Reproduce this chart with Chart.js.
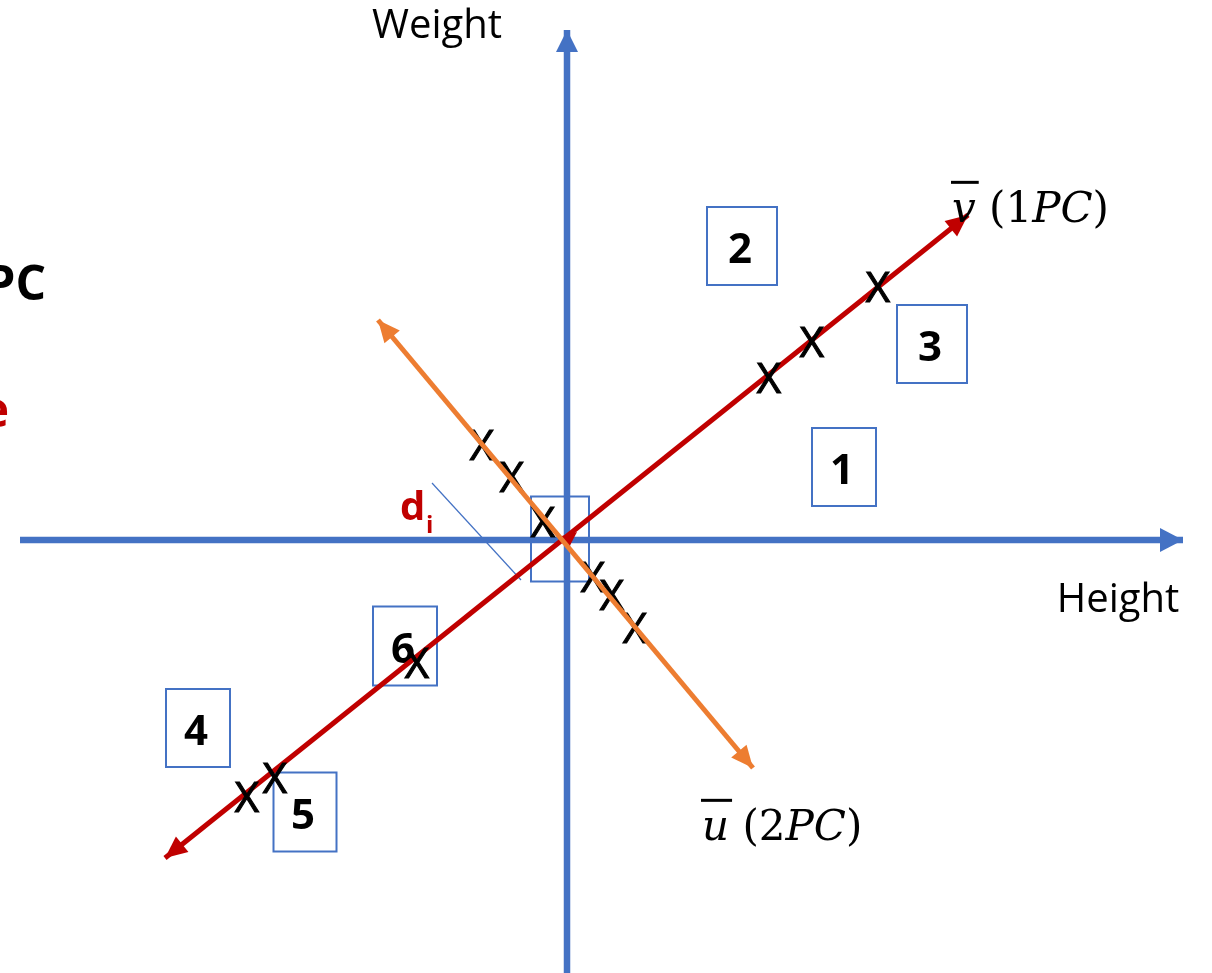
<!DOCTYPE html>
<html>
<head>
<meta charset="utf-8">
<script src="https://cdn.jsdelivr.net/npm/chart.js@4.4.1/dist/chart.umd.min.js"></script>
<style>
html, body { margin: 0; padding: 0; background: #fff; }
canvas { display: block; }
</style>
</head>
<body>
<canvas id="pcaChart" width="1212" height="973"></canvas>
<script>
// Data (Height / Weight origin at 0,0)
var heightAxis = [{x: -547, y: 0}, {x: 616, y: 0}];
var weightAxis = [{x: 0, y: -433}, {x: 0, y: 510}];
var pc1Line = [{x: -402, y: -318}, {x: 401, y: 325}];
var pc2Line = [{x: -189, y: 220}, {x: 186, y: -228}];
var diLine = [{x: -135, y: 57}, {x: -46, y: -40}];

var sampleX = [311, 245, 202, -85, -55, -24, 26, 45, 68, -150, -292, -320];
var sampleY = [253, 198, 162, 95, 63, 18, -37, -55, -88, -123, -238, -257];

var boxLabels = ['2', '3', '1', '6', '4', '5', ''];
var boxX = [175, 365, 277, -162, -369, -262, -7];
var boxY = [294, 196, 73, -106, -188, -272, 1];

var samples = sampleX.map(function (v, i) { return {x: v, y: sampleY[i]}; });

var BLUE = '#4472C4';
var RED = '#C00000';
var ORANGE = '#ED7D31';

// "X" marker drawn as an image point style
var xMark = document.createElement('canvas');
xMark.width = 36;
xMark.height = 44;
var xc = xMark.getContext('2d');
xc.font = '42px "Open Sans"';
xc.fillStyle = '#000';
xc.strokeStyle = '#000';
xc.lineWidth = 1.1;
xc.textAlign = 'center';
xc.textBaseline = 'alphabetic';
xc.fillText('X', 18, 37);
xc.strokeText('X', 18, 37);

function arrowHead(ctx, tip, from, len, half, color) {
    var dx = tip.x - from.x, dy = tip.y - from.y;
    var d = Math.sqrt(dx * dx + dy * dy);
    var ux = dx / d, uy = dy / d;
    var bx = tip.x - ux * len, by = tip.y - uy * len;
    ctx.beginPath();
    ctx.moveTo(tip.x, tip.y);
    ctx.lineTo(bx - uy * half, by + ux * half);
    ctx.lineTo(bx + uy * half, by - ux * half);
    ctx.closePath();
    ctx.fillStyle = color;
    ctx.fill();
}

function mathLabel(ctx, runs, x, y, size) {
    var first = null;
    runs.forEach(function (r) {
        ctx.font = (r.it ? 'italic ' : '') + size + 'px "DejaVu Serif"';
        var w = ctx.measureText(r.t).width;
        ctx.fillText(r.t, x, y + (r.dy || 0));
        if (!first) first = {x: x, w: w};
        x += w;
    });
    // bar over the vector letter
    ctx.fillRect(first.x - 1, y - size * 0.98, first.w + 4, 3);
}

var arrowPlugin = {
    id: 'arrows',
    afterDatasetDraw: function (chart, args) {
        var ds = chart.data.datasets[args.index];
        if (!ds.arrowEnds) return;
        var pts = args.meta.data;
        var ctx = chart.ctx;
        ds.arrowEnds.forEach(function (i) {
            var tip = pts[i], from = pts[1 - i];
            arrowHead(ctx, tip, from, ds.arrowSize[0], ds.arrowSize[1], ds.borderColor);
        });
        if (ds.innerArrow) {
            var xs = chart.scales.x, ys = chart.scales.y;
            var t = {x: xs.getPixelForValue(ds.innerArrow.x), y: ys.getPixelForValue(ds.innerArrow.y)};
            arrowHead(ctx, t, pts[0], 18, 8, ds.borderColor);
        }
    }
};

var boxSizes = [[70, 78], [70, 78], [64, 78], [64, 79], [64, 78], [63, 79], [58, 85]];

var boxPlugin = {
    id: 'boxes',
    beforeDatasetsDraw: function (chart) {
        var ctx = chart.ctx, xs = chart.scales.x, ys = chart.scales.y;
        ctx.save();
        boxLabels.forEach(function (lab, i) {
            var cx = xs.getPixelForValue(boxX[i]), cy = ys.getPixelForValue(boxY[i]);
            var w = boxSizes[i][0], h = boxSizes[i][1];
            ctx.strokeStyle = BLUE;
            ctx.lineWidth = 2;
            ctx.strokeRect(cx - w / 2, cy - h / 2, w, h);
            ctx.fillStyle = '#000';
            ctx.font = 'bold 42px "Open Sans"';
            ctx.textAlign = 'center';
            ctx.textBaseline = 'alphabetic';
            ctx.fillText(lab, cx - 2, cy + 17);
        });
        ctx.restore();
    },
    afterDraw: function (chart) {
        var ctx = chart.ctx;
        ctx.save();
        ctx.fillStyle = '#000';
        ctx.textBaseline = 'alphabetic';
        ctx.font = '40px "Open Sans"';
        ctx.textAlign = 'center';
        ctx.fillText('Weight', 437, 38);
        ctx.fillText('Height', 1118, 612);

        ctx.textAlign = 'right';
        ctx.font = 'bold 48px "Open Sans"';
        ctx.fillText('PC', 46, 300);
        ctx.fillStyle = RED;
        ctx.fillText('e', 9, 427);

        ctx.textAlign = 'left';
        ctx.font = 'bold 40px "Open Sans"';
        ctx.fillText('d', 400, 520);
        ctx.font = 'bold 24px "Open Sans"';
        ctx.fillText('i', 426, 533);

        ctx.fillStyle = '#000';
        mathLabel(ctx, [{t: 'v', it: true}, {t: ' ('}, {t: '1'}, {t: 'PC', it: true}, {t: ')'}], 952, 222, 42);
        mathLabel(ctx, [{t: 'u', it: true}, {t: ' ('}, {t: '2'}, {t: 'PC', it: true}, {t: ')'}], 702, 840, 42);
        ctx.restore();
    }
};

var ctx = document.getElementById('pcaChart').getContext('2d');
var pcaChart = new Chart(ctx, {
    type: 'scatter',
    data: {
        datasets: [
            {
                type: 'line', data: pc2Line, borderColor: ORANGE, borderWidth: 5,
                pointRadius: 0, arrowEnds: [0, 1], arrowSize: [22, 10]
            },
            {
                data: samples, pointStyle: xMark, pointRadius: 18
            },
            {
                type: 'line', data: pc1Line, borderColor: RED, borderWidth: 5,
                pointRadius: 0, arrowEnds: [0, 1], arrowSize: [22, 10],
                innerArrow: {x: 10, y: 8}
            },
            {
                type: 'line', data: heightAxis, borderColor: BLUE, borderWidth: 6.5,
                pointRadius: 0, arrowEnds: [1], arrowSize: [23, 12]
            },
            {
                type: 'line', data: weightAxis, borderColor: BLUE, borderWidth: 6.5,
                pointRadius: 0, arrowEnds: [1], arrowSize: [22, 11]
            },
            {
                type: 'line', data: diLine, borderColor: BLUE, borderWidth: 1.2,
                pointRadius: 0
            }
        ]
    },
    options: {
        responsive: false,
        animation: false,
        events: [],
        layout: {padding: 0, autoPadding: false},
        plugins: {legend: {display: false}, tooltip: {enabled: false}},
        scales: {
            x: {type: 'linear', min: -567, max: 645, display: false},
            y: {type: 'linear', min: -433, max: 540, display: false}
        }
    },
    plugins: [arrowPlugin, boxPlugin]
});
</script>
</body>
</html>
